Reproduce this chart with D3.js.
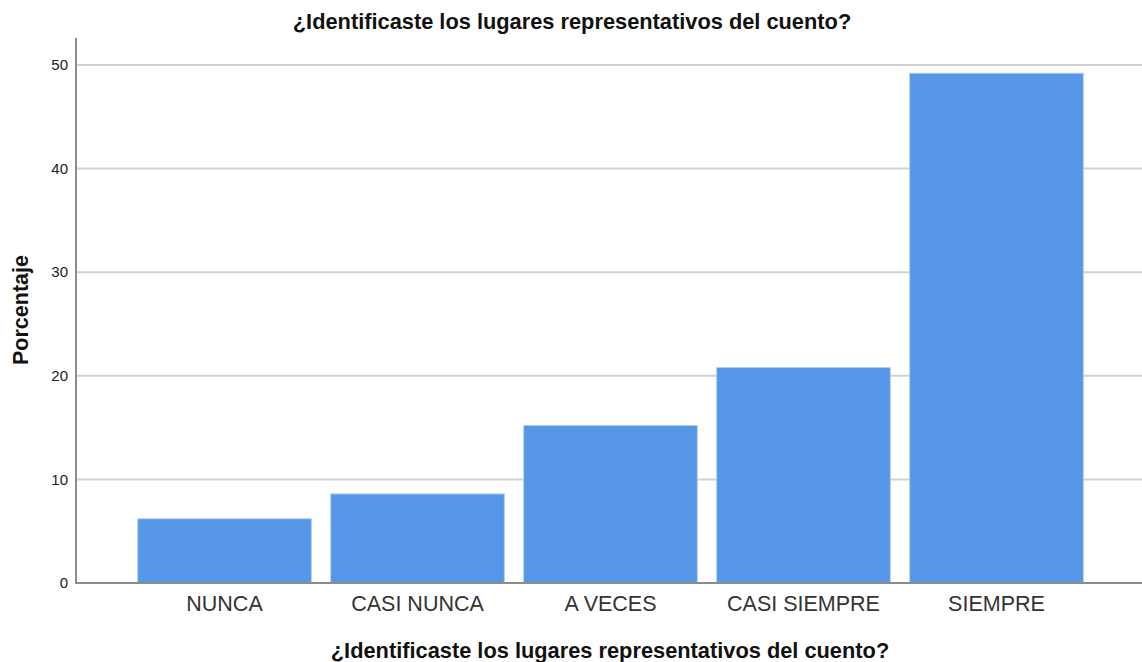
<!DOCTYPE html>
<html><head><meta charset="utf-8">
<script src="https://cdn.jsdelivr.net/npm/d3@7"></script>
<style>body{margin:0;background:#fff;} svg{display:block;font-family:"Liberation Sans",Arial,sans-serif;}</style>
</head><body>
<svg id="c" width="1142" height="662"></svg>
<script>
const categories = ["NUNCA","CASI NUNCA","A VECES","CASI SIEMPRE","SIEMPRE"];
const values = [6.2, 8.6, 15.2, 20.8, 49.2];
const yTicks = [0,10,20,30,40,50];
const title = "¿Identificaste los lugares representativos del cuento?";
const yLabel = "Porcentaje";

const svg = d3.select("#c");
const x0 = 76, x1 = 1142, yTop = 38, yBot = 583;
const y = d3.scaleLinear().domain([0, 52.6]).range([yBot, yTop]);
const x = d3.scaleBand().domain(categories).range([128, 1093]).paddingInner(0.1).paddingOuter(0.05);

// gridlines
svg.append("g").selectAll("line").data(yTicks.filter(d=>d>0)).join("line")
  .attr("x1", x0).attr("x2", x1).attr("y1", d=>y(d)).attr("y2", d=>y(d))
  .attr("stroke", "#d2d2d2").attr("stroke-width", 2);

// bars
svg.append("g").selectAll("rect").data(values).join("rect")
  .attr("x", (d,i)=>x(categories[i])).attr("width", x.bandwidth())
  .attr("y", d=>y(d)).attr("height", d=>yBot - y(d))
  .attr("fill", "#5596e6").attr("stroke", "#b3d0f3").attr("stroke-width", 1);

// y axis
const yAxis = d3.axisLeft(y).tickValues(yTicks).tickSize(0).tickPadding(8);
const ga = svg.append("g").attr("transform", `translate(${x0},0)`).call(yAxis);
ga.select(".domain").remove();
ga.selectAll("text").attr("font-size", 15).attr("fill", "#222").attr("font-family", "Liberation Sans, Arial, sans-serif");
svg.append("line").attr("x1", x0).attr("x2", x0).attr("y1", yTop).attr("y2", yBot).attr("stroke", "#8c8c8c").attr("stroke-width", 2);

// x axis
const xAxis = d3.axisBottom(x).tickSize(0).tickPadding(13);
const gx = svg.append("g").attr("transform", `translate(0,${yBot})`).call(xAxis);
gx.select(".domain").remove();
gx.selectAll("text").attr("font-size", 21.5).attr("fill", "#333").attr("font-family", "Liberation Sans, Arial, sans-serif");
svg.append("line").attr("x1", x0-1).attr("x2", x1).attr("y1", yBot).attr("y2", yBot).attr("stroke", "#8c8c8c").attr("stroke-width", 2);

// titles
svg.append("text").attr("x", 572).attr("y", 29).attr("text-anchor", "middle")
  .attr("font-size", 21.8).attr("font-weight", "bold").attr("fill", "#111").text(title);
svg.append("text").attr("x", 610).attr("y", 658).attr("text-anchor", "middle")
  .attr("font-size", 21.8).attr("font-weight", "bold").attr("fill", "#111").text(title);
svg.append("text").attr("transform", "translate(28,310) rotate(-90)").attr("text-anchor", "middle")
  .attr("font-size", 21.5).attr("font-weight", "bold").attr("fill", "#111").text(yLabel);
</script>
</body></html>
